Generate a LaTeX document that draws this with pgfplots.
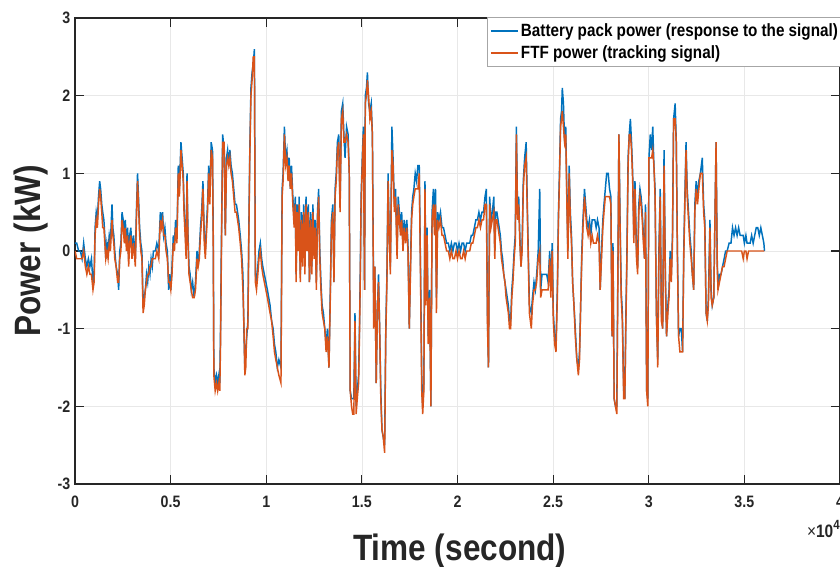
\documentclass[border=0pt]{standalone}
\usepackage{pgfplots}
\usepackage{pgfplotstable}
\usepackage{fontspec}
\setmainfont{Liberation Sans}[FakeStretch=0.86]
\pgfplotsset{compat=1.18}
\definecolor{mblue}{RGB}{0,114,189}
\definecolor{morange}{RGB}{217,83,25}
\definecolor{axgray}{RGB}{38,38,38}
\definecolor{gridgray}{RGB}{232,232,232}

\pgfplotstableread{
t b o
0 0.1 0.0
90 0.1 -0.1
190 0.0 -0.1
280 0.0 -0.1
370 -0.1 -0.1
453 0.1 0.0
540 -0.1 -0.2
620 -0.2 -0.3
700 -0.1 -0.2
780 -0.2 -0.3
860 -0.1 -0.3
940 -0.4 -0.5
1000 -0.3 -0.4
1050 0.3 0.2
1110 0.5 0.4
1170 0.4 0.3
1230 0.7 0.6
1290 0.9 0.8
1340 0.8 0.7
1400 0.6 0.5
1450 0.5 0.3
1510 0.4 0.3
1560 0.2 0.1
1610 -0.1 -0.1
1670 0.1 0.0
1730 0.0 -0.1
1790 0.2 0.1
1850 0.1 0.0
1935 0.6 0.4
1980 0.3 0.2
2030 0.2 0.1
2080 0.0 -0.1
2150 -0.2 -0.2
2230 -0.3 -0.4
2283 -0.5 -0.4
2340 0.0 -0.1
2400 0.1 0.0
2460 0.5 0.4
2520 0.4 0.3
2580 0.2 0.1
2630 0.4 0.3
2690 0.1 0.0
2750 0.3 0.2
2806 -0.1 -0.2
2860 0.2 0.1
2920 0.3 0.2
2980 0.0 -0.1
3060 0.2 0.1
3155 -0.1 -0.2
3210 0.5 0.4
3270 1.0 0.9
3320 0.7 0.6
3380 0.3 0.2
3440 0.1 0.0
3500 0.0 -0.1
3560 -0.7 -0.8
3620 -0.6 -0.7
3680 -0.5 -0.5
3740 -0.3 -0.4
3800 -0.4 -0.3
3860 -0.2 -0.3
3920 -0.3 -0.2
3980 -0.1 -0.2
4040 -0.2 -0.1
4100 0.0 -0.1
4200 0.0 -0.1
4280 0.1 0.0
4380 0.0 -0.1
4462 0.5 0.4
4520 0.4 0.3
4580 0.5 0.4
4636 0.2 0.2
4700 0.3 0.2
4760 0.1 0.0
4830 0.0 -0.1
4898 -0.5 -0.4
4950 -0.3 -0.4
5010 -0.5 -0.5
5072 -0.2 -0.3
5140 0.2 0.1
5200 0.1 0.0
5260 0.4 0.3
5330 0.2 0.1
5400 1.1 1.0
5460 0.8 0.7
5540 1.4 1.3
5600 1.2 1.1
5660 1.0 0.9
5700 0.6 0.5
5760 0.3 0.2
5810 0.0 -0.1
5857 1.0 0.9
5910 0.2 0.1
5960 -0.2 -0.3
6020 -0.3 -0.4
6080 -0.5 -0.5
6150 -0.4 -0.6
6230 -0.6 -0.6
6300 -0.4 -0.5
6380 0.0 -0.1
6440 -0.2 -0.2
6500 0.0 -0.1
6560 0.3 0.2
6620 0.5 0.4
6690 0.9 0.8
6760 0.2 0.1
6815 0.0 -0.1
6870 0.3 0.2
6930 0.6 0.5
6990 1.1 1.0
7050 0.7 0.6
7120 1.4 1.3
7190 1.3 1.2
7230 0.2 0.0
7260 -1.5 -1.6
7330 -1.7 -1.8
7400 -1.6 -1.7
7460 -1.7 -1.8
7520 -1.6 -1.7
7570 -1.7 -1.8
7610 -1.0 -1.2
7650 0.0 -0.2
7720 1.5 1.4
7800 1.3 1.4
7860 0.2 0.2
7920 1.2 1.1
7980 1.3 1.2
8040 1.1 1.1
8100 1.3 1.2
8160 1.1 1.0
8230 1.0 0.9
8300 0.8 0.7
8370 0.6 0.5
8440 0.6 0.5
8500 0.5 0.4
8560 0.4 0.3
8640 0.2 0.1
8710 0.0 -0.1
8780 -0.3 -0.5
8830 -1.0 -0.9
8880 -1.5 -1.6
8930 -1.3 -1.5
8980 -1.1 -1.0
9040 -0.9 -1.0
9090 0.3 0.2
9140 1.3 1.2
9200 2.1 2.0
9260 2.3 2.2
9320 2.4 2.5
9380 2.6 2.5
9430 -0.3 -0.4
9490 -0.4 -0.5
9560 -0.2 -0.3
9620 0.0 -0.1
9690 0.1 0.0
9760 -0.1 -0.2
9820 -0.2 -0.3
9900 -0.3 -0.4
9980 -0.4 -0.5
10060 -0.5 -0.6
10130 -0.6 -0.7
10200 -0.7 -0.8
10280 -0.9 -0.9
10360 -1.0 -1.1
10430 -1.2 -1.3
10500 -1.3 -1.4
10580 -1.5 -1.5
10660 -1.4 -1.6
10770 -1.5 -1.7
10830 0.8 0.7
10880 1.0 0.9
10950 1.6 1.5
11010 1.2 1.1
11080 1.3 1.2
11140 1.0 0.9
11200 1.2 1.1
11260 0.8 0.8
11320 1.1 1.0
11390 0.7 0.6
11460 0.4 0.3
11520 0.7 0.6
11560 -0.3 -0.4
11620 0.6 0.5
11680 0.1 0.0
11720 0.7 0.6
11780 -0.3 -0.4
11840 0.5 0.4
11900 0.0 -0.2
11960 0.6 0.5
12020 -0.2 -0.3
12080 0.7 0.6
12140 0.1 0.0
12200 0.6 0.5
12260 -0.4 -0.4
12320 0.5 0.4
12380 -0.2 -0.3
12440 0.6 0.5
12500 0.0 -0.1
12560 0.4 0.3
12620 -0.4 -0.5
12680 0.5 0.4
12740 0.8 0.7
12800 0.0 -0.1
12860 -0.4 -0.5
12920 -0.7 -0.8
12990 -0.8 -0.9
13060 -1.0 -1.0
13130 -1.2 -1.3
13200 -1.0 -1.1
13280 -1.5 -1.5
13350 -0.5 -0.6
13410 0.4 0.3
13480 0.6 0.5
13540 -0.4 -0.4
13600 0.8 0.7
13660 1.0 0.9
13720 1.4 1.3
13790 1.5 1.4
13860 0.6 0.5
13930 1.8 1.7
14000 1.9 1.8
14060 1.5 1.4
14120 1.2 1.4
14200 1.6 1.5
14280 1.5 1.4
14340 1.0 1.0
14390 -1.8 -1.8
14460 -1.9 -2.0
14520 -1.9 -2.1
14580 -1.9 -2.1
14640 -0.8 -0.9
14700 -2.0 -2.1
14760 -1.8 -1.9
14830 -1.6 -1.7
14880 -0.9 -1.0
14920 -0.2 -0.3
14960 0.7 0.6
15020 1.2 1.1
15080 1.6 1.5
15140 -0.5 -0.5
15180 2.0 1.9
15240 2.1 2.0
15290 2.3 2.2
15350 1.9 2.0
15420 1.8 1.7
15490 1.9 1.8
15550 1.5 1.5
15620 -0.8 -1.0
15680 -0.2 -0.2
15750 -1.7 -1.7
15810 -0.8 -0.8
15870 -0.3 -0.4
15930 -1.0 -1.0
15990 -1.8 -1.9
16050 -2.3 -2.3
16120 -2.4 -2.4
16190 -2.5 -2.6
16250 -1.0 -1.1
16310 -0.3 -0.4
16370 1.0 0.9
16430 0.2 0.2
16490 -0.2 -0.3
16570 1.6 1.3
16630 1.2 1.1
16700 0.6 0.5
16760 0.8 0.7
16840 0.0 -0.1
16900 0.7 0.6
16960 0.5 0.4
17020 0.3 0.2
17080 0.5 0.4
17150 0.1 0.0
17210 0.4 0.3
17280 0.2 0.1
17350 0.4 0.3
17410 0.1 0.0
17480 -1.0 -1.0
17540 -0.2 -0.3
17600 0.5 0.4
17660 0.7 0.6
17720 0.8 0.7
17790 1.0 0.8
17860 0.9 0.8
17930 1.1 0.8
18000 1.1 1.0
18070 -0.3 -0.4
18130 -1.6 -1.8
18180 -2.0 -2.1
18240 -1.7 -1.8
18300 0.9 0.8
18350 -0.6 -0.7
18410 0.3 0.2
18470 -1.1 -1.2
18540 -0.5 -0.6
18610 -2.0 -2.0
18670 0.5 0.4
18740 0.8 0.6
18800 0.3 0.2
18850 0.8 0.6
18900 -0.6 -0.8
18960 0.5 0.4
19030 0.4 0.3
19110 0.5 0.4
19190 0.3 0.2
19270 0.3 0.2
19350 0.2 0.1
19430 0.1 0.0
19520 0.1 0.0
19600 0.0 -0.1
19680 0.1 0.0
19760 0.0 -0.1
19840 0.1 -0.1
19920 0.1 0.0
20000 0.0 -0.1
20080 0.1 0.0
20160 0.0 -0.1
20240 0.1 -0.1
20320 0.1 0.0
20400 0.0 -0.1
20480 0.1 0.0
20560 0.1 0.0
20640 0.1 0.0
20720 0.2 0.1
20800 0.2 0.1
20880 0.3 0.2
20960 0.4 0.3
21040 0.4 0.3
21120 0.5 0.4
21200 0.4 0.3
21280 0.5 0.4
21360 0.5 0.4
21440 0.7 0.6
21510 0.8 0.6
21570 -0.9 -1.0
21620 -1.5 -1.5
21680 0.7 0.6
21750 0.4 0.3
21820 0.5 0.4
21900 0.7 0.5
21950 0.0 -0.1
22000 0.5 0.4
22060 0.5 0.4
22120 0.4 0.3
22180 0.3 0.2
22240 0.2 0.1
22300 0.0 -0.1
22360 -0.1 -0.2
22420 -0.3 -0.3
22480 -0.4 -0.4
22540 -0.5 -0.6
22600 -0.6 -0.7
22660 -0.7 -0.8
22720 -0.9 -1.0
22780 -0.9 -1.0
22840 -0.5 -0.6
22900 -0.3 -0.4
22960 0.0 -0.1
23020 0.2 0.1
23080 1.6 1.5
23140 0.5 0.4
23200 0.7 0.6
23260 0.2 0.1
23320 -0.2 -0.2
23380 0.1 0.0
23440 0.9 0.8
23510 1.2 1.1
23590 1.4 1.2
23650 0.6 0.5
23700 0.0 -0.1
23760 -0.7 -0.8
23860 -0.8 -1.0
23920 -0.6 -0.7
24000 -0.4 -0.5
24070 -0.5 -0.5
24140 -0.3 -0.4
24220 0.0 -0.1
24300 0.8 0.0
24350 -0.5 -0.6
24420 -0.3 -0.5
24500 -0.3 -0.5
24580 -0.3 -0.5
24660 -0.3 -0.5
24740 -0.4 -0.5
24820 0.0 -0.1
24880 -0.5 -0.6
24950 0.1 0.0
25010 -0.8 -0.9
25080 -1.1 -1.2
25150 -1.2 -1.3
25220 -0.5 -0.6
25280 0.5 0.4
25330 1.0 0.9
25390 1.7 1.6
25440 1.8 1.7
25480 2.1 1.8
25540 1.9 1.6
25600 1.4 1.4
25660 1.6 1.5
25720 0.7 0.6
25770 0.0 -0.1
25840 1.1 1.0
25900 0.5 0.4
25960 0.2 0.1
26020 -0.4 -0.4
26090 -0.7 -0.7
26160 -1.0 -1.1
26240 -1.4 -1.4
26320 -1.5 -1.6
26380 -1.3 -1.4
26440 -0.7 -0.7
26500 0.0 -0.1
26560 0.4 0.3
26640 0.8 0.7
26700 0.6 0.5
26760 0.4 0.3
26830 0.3 0.2
26900 0.4 0.3
26970 0.2 0.1
27040 0.4 0.2
27110 0.4 0.1
27180 0.4 0.1
27250 0.3 0.1
27320 0.4 0.2
27400 0.3 0.1
27460 -0.5 -0.5
27530 0.0 -0.1
27600 0.4 0.3
27660 0.6 0.5
27730 0.8 0.7
27800 1.0 0.7
27880 1.0 0.7
27950 0.8 0.7
28020 0.7 0.6
28080 -1.1 -1.1
28130 0.1 0.0
28190 -1.9 -1.9
28260 -2.0 -2.0
28330 -2.0 -2.1
28400 0.2 0.1
28440 1.5 1.5
28500 0.4 0.3
28560 -0.5 -0.6
28620 -0.8 -0.9
28690 -1.8 -1.9
28750 -1.9 -1.9
28800 -0.9 -1.0
28860 0.0 -0.1
28920 1.2 1.1
28980 1.5 1.5
29040 1.7 1.5
29100 1.4 1.3
29160 1.0 0.9
29220 0.2 0.1
29280 0.9 0.8
29360 0.0 -0.1
29420 -0.2 -0.3
29480 0.6 0.5
29540 0.8 0.7
29600 0.7 0.6
29660 0.5 0.4
29720 0.2 0.1
29780 -0.1 -0.1
29830 0.6 0.5
29890 -1.8 -1.8
29950 -1.9 -2.0
30010 1.2 1.2
30080 1.5 1.2
30150 1.3 1.2
30210 1.6 1.3
30270 1.1 1.1
30330 0.8 0.7
30400 -0.8 -0.8
30470 -1.4 -1.5
30530 0.0 -0.1
30600 0.8 0.7
30660 -0.8 -0.9
30730 -1.0 -1.0
30800 1.3 1.1
30870 -0.3 -0.4
30930 -1.1 -1.1
31000 -0.7 -0.8
31060 -0.5 -0.6
31120 0.0 -0.1
31180 -0.3 -0.4
31240 0.2 0.1
31300 1.7 1.7
31380 1.9 1.7
31440 1.4 1.4
31500 0.0 -0.1
31560 -1.1 -1.1
31630 -1.0 -1.3
31700 -1.0 -1.3
31770 -1.3 -1.3
31830 0.0 -0.1
31880 0.6 0.5
31950 1.4 1.3
32010 0.8 0.7
32080 0.5 0.4
32150 0.2 0.1
32220 0.0 -0.1
32280 -0.3 -0.3
32350 -0.5 -0.5
32410 0.6 0.5
32480 0.9 0.8
32550 0.7 0.6
32620 0.9 0.8
32700 1.0 1.0
32800 1.2 1.0
32870 0.6 0.5
32930 0.4 0.3
33000 -0.8 -0.8
33060 -0.9 -0.9
33120 -0.6 -0.7
33200 0.4 0.3
33260 -0.5 -0.6
33320 -0.7 -0.7
33400 -0.6 -0.6
33520 1.4 1.4
33580 -0.1 -0.2
33620 -0.5 -0.5
33700 -0.3 -0.4
33780 -0.3 -0.3
33860 -0.2 -0.2
33940 -0.1 -0.2
34020 0.0 -0.1
34100 0.0 0.0
34200 0.1 0.0
34300 0.1 0.0
34380 0.3 0.0
34460 0.2 0.0
34540 0.3 0.0
34620 0.2 0.0
34700 0.3 0.0
34780 0.2 0.0
34860 0.2 0.0
34940 0.2 -0.1
35000 0.1 0.0
35080 0.2 0.0
35140 0.1 -0.1
35220 0.1 0.0
35300 0.1 0.0
35380 0.2 0.0
35460 0.1 0.0
35540 0.2 0.0
35620 0.3 0.0
35700 0.3 0.0
35780 0.2 0.0
35860 0.3 0.0
35940 0.2 0.0
36020 0.1 0.0
36050 0.0 0.0
}\powerdata

\begin{document}
\begin{tikzpicture}
\begin{axis}[
  scale only axis,
  width=573.75pt, height=349.5pt,
  xmin=0, xmax=40000, ymin=-3, ymax=3,
  xtick={0,5000,10000,15000,20000,25000,30000,35000,40000},
  xticklabels={0,0.5,1,1.5,2,2.5,3,3.5,4},
  ytick={-3,-2,-1,0,1,2,3},
  yticklabels={-3,-2,-1,0,1,2,3},
  scaled x ticks=false,
  ticklabel style={font=\fontsize{12.4}{14}\selectfont\bfseries, text=axgray},
  xticklabel style={yshift=-5.5pt},
  grid=major,
  major grid style={gridgray, line width=0.5pt},
  axis line style={axgray, line width=0.8pt},
  major tick length=7pt,
  tick style={axgray, line width=0.8pt},
  xlabel={Time (second)},
  ylabel={Power (kW)},
  label style={font=\fontsize{27.5}{30}\selectfont\bfseries, text=axgray, inner sep=0pt},
  xlabel style={at={(axis description cs:0.503,-0.1652)}, anchor=base},
  ylabel style={at={(axis description cs:-0.0353,0.5)}, anchor=south},
  legend style={at={(axis description cs:0.5386,1.002)}, anchor=north west,
    draw=gray!70, line width=0.5pt, fill=white,
    font=\fontsize{13.3}{16}\selectfont\bfseries, text=black,
    inner xsep=2pt, inner ysep=2.5pt, row sep=1.8pt},
  legend cell align=left,
]
\addplot[mblue, line width=1.1pt,
  legend image code/.code={\draw[draw=mblue, line width=1.2pt] (0pt,0pt) -- (20pt,0pt);}]
  table[x=t, y=b]{\powerdata};
\addlegendentry{Battery pack power (response to the signal)}
\addplot[morange, line width=1.1pt,
  legend image code/.code={\draw[draw=morange, line width=1.2pt] (0pt,0.3pt) -- (20pt,0.3pt);}]
  table[x=t, y=o]{\powerdata};
\addlegendentry{FTF power (tracking signal)}
\coordinate (sw) at (rel axis cs:0,0);
\coordinate (ne) at (rel axis cs:1,1);
\coordinate (se) at (rel axis cs:1,0);
\end{axis}
\node[anchor=base east, inner sep=0pt, font=\fontsize{13.5}{15}\selectfont, text=axgray]
  at ([yshift=-40.5pt]se) {×\textbf{10}\raisebox{0.85ex}{\fontsize{10}{11}\selectfont\bfseries 4}};
\pgfresetboundingbox
\path[use as bounding box] ([xshift=-56.25pt,yshift=-62.25pt]sw) rectangle ([yshift=13.5pt]ne);
\end{tikzpicture}
\end{document}
